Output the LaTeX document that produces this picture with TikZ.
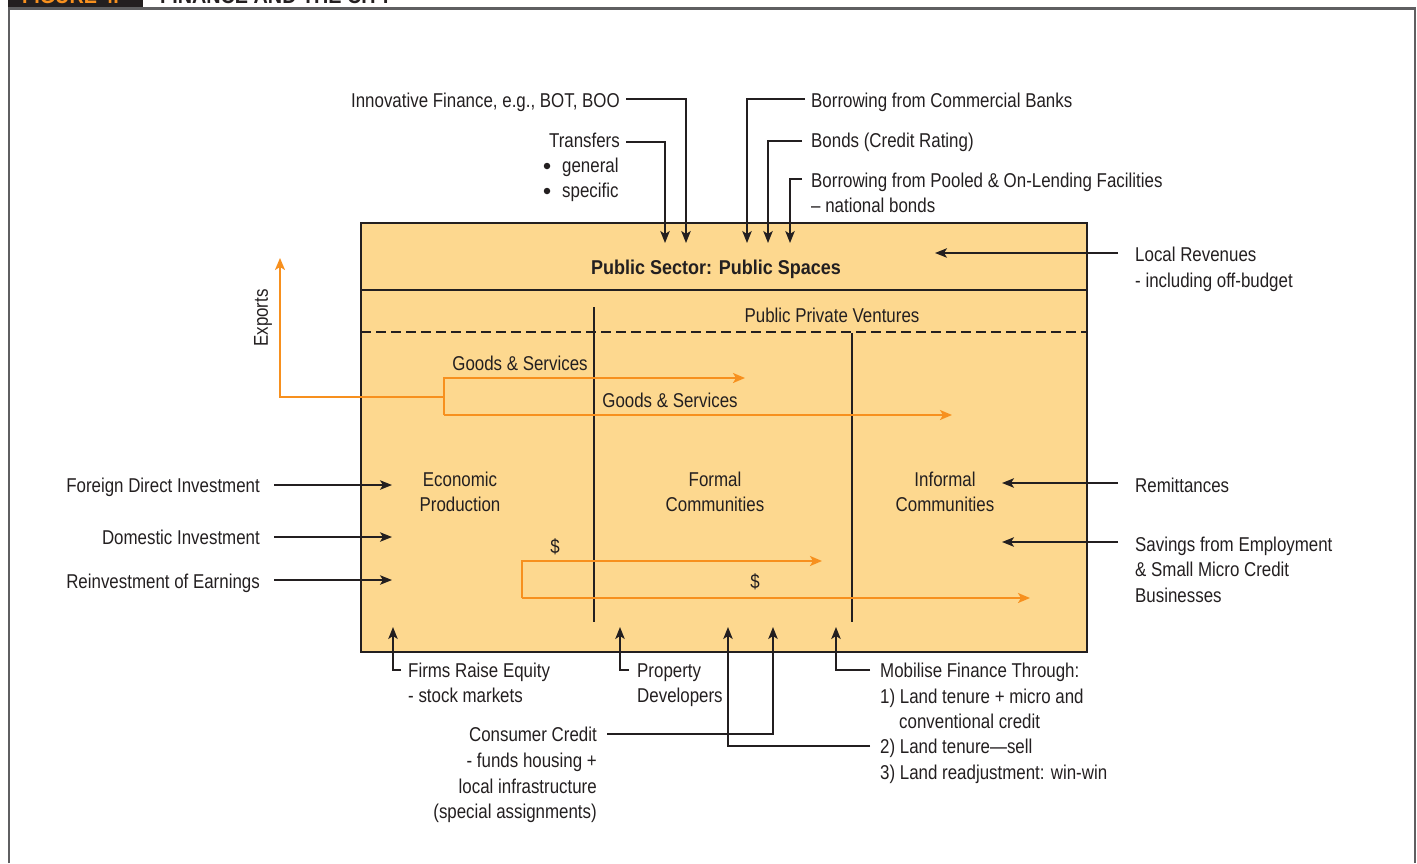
\documentclass[tikz,border=0pt]{standalone}
\usepackage{fontspec}
\setmainfont{Liberation Sans}[FakeStretch=0.845,BoldFeatures={FakeStretch=0.9}]
\usetikzlibrary{arrows.meta}
\definecolor{boxfill}{RGB}{253,216,143}
\definecolor{org}{RGB}{247,144,30}
\definecolor{ink}{RGB}{35,31,32}
\definecolor{frame}{RGB}{95,95,97}
\begin{document}
\begin{tikzpicture}[x=1pt,y=-1pt,
  lbl/.style={inner sep=0pt,font=\fontsize{20}{25}\selectfont,text=ink},
  L/.style={lbl,anchor=base west},
  R/.style={lbl,anchor=base east},
  C/.style={lbl,anchor=base},
  dot/.style={circle,fill=ink,inner sep=0pt,minimum size=6.5pt},
  con/.style={draw=ink,line width=1.4pt},
  arr/.style={con,-{Stealth[length=12pt,width=9.5pt,inset=3pt]}},
  oline/.style={draw=org,line width=1.8pt},
  oarr/.style={oline,-{Stealth[length=12pt,width=10pt,inset=3pt]}}]
\useasboundingbox (0,0) rectangle (1417,863);

% header (cut off at top)
\begin{scope}
\clip (0,0) rectangle (1417,8);
\fill[ink] (8,-30) rectangle (143,8);
\node[anchor=base west,inner sep=0pt,text=org,font=\bfseries\fontsize{22}{22}\selectfont] (fignum) at (22,3) {FIGURE 4.};
\node[anchor=base west,inner sep=0pt,text=ink,font=\bfseries\fontsize{22}{22}\selectfont] (figtitle) at (160,3) {FINANCE AND THE CITY};
\end{scope}

% outer frame
\draw[frame,line width=2.5pt] (9,863) -- (9,8.5) -- (1415,8.5) -- (1415,863);

% main box
\draw[fill=boxfill,draw=ink,line width=2.8pt] (361,223) rectangle (1087,652);
\draw[ink,line width=1.4pt] (361,290) -- (1087,290);
\draw[ink,line width=1.6pt,dash pattern=on 10pt off 5pt] (361,332) -- (1087,332);
\draw[ink,line width=1.4pt] (594,307) -- (594,622);
\draw[ink,line width=1.4pt] (852,333) -- (852,622);

\node[C,font=\bfseries\fontsize{20}{25}\selectfont] (ps) at (716,274) {Public Sector: Public Spaces};
\node[C] (ppv) at (832,322) {Public Private Ventures};
\node[C] (ep1) at (460,486) {Economic};
\node[C] (ep2) at (460,511) {Production};
\node[C] (fc1) at (715,486) {Formal};
\node[C] (fc2) at (715,511) {Communities};
\node[C] (ic1) at (945,486) {Informal};
\node[C] (ic2) at (945,511) {Communities};

% orange flows
\node[C] (gs1) at (520,370) {Goods \& Services};
\node[C] (gs2) at (670,407) {Goods \& Services};
\node[lbl,rotate=90] (exports) at (263,318) {Exports};
\coordinate (gsTop) at (444,378);
\coordinate (gsBot) at (444,415);
\coordinate (gsMid) at (444,397);
\coordinate (gsT1) at (745,378);
\coordinate (gsT2) at (952,415);
\coordinate (expT) at (280,258);
\draw[oarr] (gsBot) -- (gsTop) -- (gsT1);
\draw[oarr] (gsBot) -- (gsT2);
\draw[oarr] (gsMid) -| (expT);

\node[C] (d1) at (555,553) {\$};
\node[C] (d2) at (755,588) {\$};
\coordinate (dTop) at (522,561);
\coordinate (dBot) at (522,598);
\coordinate (dT1) at (822,561);
\coordinate (dT2) at (1030,598);
\draw[oarr] (dBot) -- (dTop) -- (dT1);
\draw[oarr] (dBot) -- (dT2);

% left inputs
\node[R] (fdi) at (260,492) {Foreign Direct Investment};
\node[R] (di) at (260,544) {Domestic Investment};
\node[R] (roe) at (260,588) {Reinvestment of Earnings};
\coordinate (fdiT) at (392,485);
\coordinate (diT) at (392,537);
\coordinate (roeT) at (392,580);
\draw[arr] (274,485) -- (fdiT);
\draw[arr] (274,537) -- (diT);
\draw[arr] (274,580) -- (roeT);

% right inputs
\node[L] (lr1) at (1135,261) {Local Revenues};
\node[L] (lr2) at (1135,287) {- including off-budget};
\node[L] (rem) at (1135,492) {Remittances};
\node[L] (sv1) at (1135,551) {Savings from Employment};
\node[L] (sv2) at (1135,576) {\& Small Micro Credit};
\node[L] (sv3) at (1135,602) {Businesses};
\coordinate (lrT) at (935,253);
\coordinate (remT) at (1002,483);
\coordinate (svT) at (1002,542);
\draw[arr] (1118,253) -- (lrT);
\draw[arr] (1118,483) -- (remT);
\draw[arr] (1118,542) -- (svT);

% top inputs
\node[R] (inn) at (620,107) {Innovative Finance, e.g., BOT, BOO};
\node[R] (tr) at (620,147) {Transfers};
\node[dot] (b1) at (547,166) {};
\node[L] (tr1) at (562,172) {general};
\node[dot] (b2) at (547,191) {};
\node[L] (tr2) at (562,197) {specific};
\node[L] (bcb) at (811,107) {Borrowing from Commercial Banks};
\node[L] (bnd) at (811,147) {Bonds (Credit Rating)};
\node[L] (bp1) at (811,187) {Borrowing from Pooled \& On-Lending Facilities};
\node[L] (bp2) at (811,212) {– national bonds};
\coordinate (innT) at (686,243);
\coordinate (trT) at (665,243);
\coordinate (bcbT) at (747,243);
\coordinate (bndT) at (768,243);
\coordinate (bpT) at (790,243);
\draw[arr] (626,99) -| (innT);
\draw[arr] (626,142) -| (trT);
\draw[arr] (805,99) -| (bcbT);
\draw[arr] (802,141) -| (bndT);
\draw[arr] (802,179) -| (bpT);

% bottom inputs
\node[L] (fre1) at (408,677) {Firms Raise Equity};
\node[L] (fre2) at (408,702) {- stock markets};
\node[L] (pd1) at (637,677) {Property};
\node[L] (pd2) at (637,702) {Developers};
\node[R] (cc1) at (597,741) {Consumer Credit};
\node[R] (cc2) at (597,767) {- funds housing +};
\node[R] (cc3) at (597,793) {local infrastructure};
\node[R] (cc4) at (597,818) {(special assignments)};
\node[L] (mf0) at (880,677) {Mobilise Finance Through:};
\node[L] (mf1) at (880,703) {1) Land tenure + micro and};
\node[L] (mf1b) at (899,728) {conventional credit};
\node[L] (mf2) at (880,753) {2) Land tenure—sell};
\node[L] (mf3) at (880,779) {3) Land readjustment: win-win};
\coordinate (freT) at (393,627);
\coordinate (pdT) at (620,627);
\coordinate (ccT) at (773,627);
\coordinate (ltT) at (728,627);
\coordinate (mfT) at (836,627);
\draw[arr] (401,670) -| (freT);
\draw[arr] (629,670) -| (pdT);
\draw[arr] (607,734) -| (ccT);
\draw[arr] (870,746) -| (ltT);
\draw[arr] (870,670) -| (mfT);
\end{tikzpicture}
\end{document}
